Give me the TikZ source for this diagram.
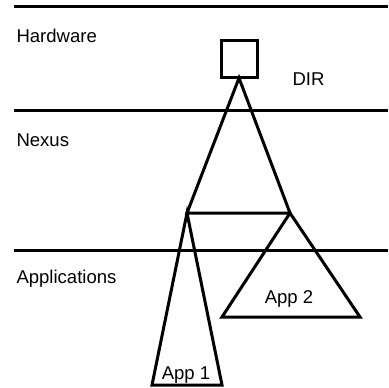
\documentclass[tikz,border=0pt]{standalone}
\usepackage{fontspec}
\setmainfont{Liberation Sans}
\tikzset{every picture/.style={line width=2.25pt}}
\tikzset{lbl/.style={font=\fontsize{13.9}{16}\selectfont, inner sep=0pt}}

\begin{document}
\begin{tikzpicture}[x=0.75pt,y=0.75pt,yscale=-1,xscale=1]
	\useasboundingbox (0,0) rectangle (388,388);

	%Straight Lines [layer top]
	\draw    (14,7) -- (388,7) ;
	%Straight Lines [layer mid]
	\draw    (14,111) -- (388,111) ;
	%Straight Lines [layer bottom]
	\draw    (14,250) -- (388,250) ;

	%Shape: Square [dir]
	\node (dir) [draw, minimum width=27pt, minimum height=27.75pt, inner sep=0pt, outer sep=0pt] at (239,59.5) {};
	\coordinate (nexusL) at (187,213);
	\coordinate (nexusR) at (290,213);

	%Shape: Triangle [nexus]
	\draw    (dir.south) -- (nexusL) -- (nexusR) -- cycle ;
	%Shape: Triangle [app1]
	\draw    (nexusL) -- (152,385) -- (222,385) -- cycle ;
	%Shape: Triangle [app2]
	\draw    (nexusR) -- (222,317) -- (360,317) -- cycle ;

	% Text Node
	\node (hw) [lbl, anchor=base west] at (15,42.3) {Hardware};
	% Text Node
	\node (nx) [lbl, anchor=base west] at (15,146.7) {Nexus};
	% Text Node
	\node (ap) [lbl, anchor=base west] at (15,283) {Applications};
	% Text Node
	\node (dirlbl) [lbl, anchor=base west] at (291,86) {DIR};
	% Text Node
	\node (app2) [lbl, anchor=base] at (289,303) {App 2};
	% Text Node
	\node (app1) [lbl, anchor=base] at (186,379) {App 1};

\end{tikzpicture}
\end{document}
